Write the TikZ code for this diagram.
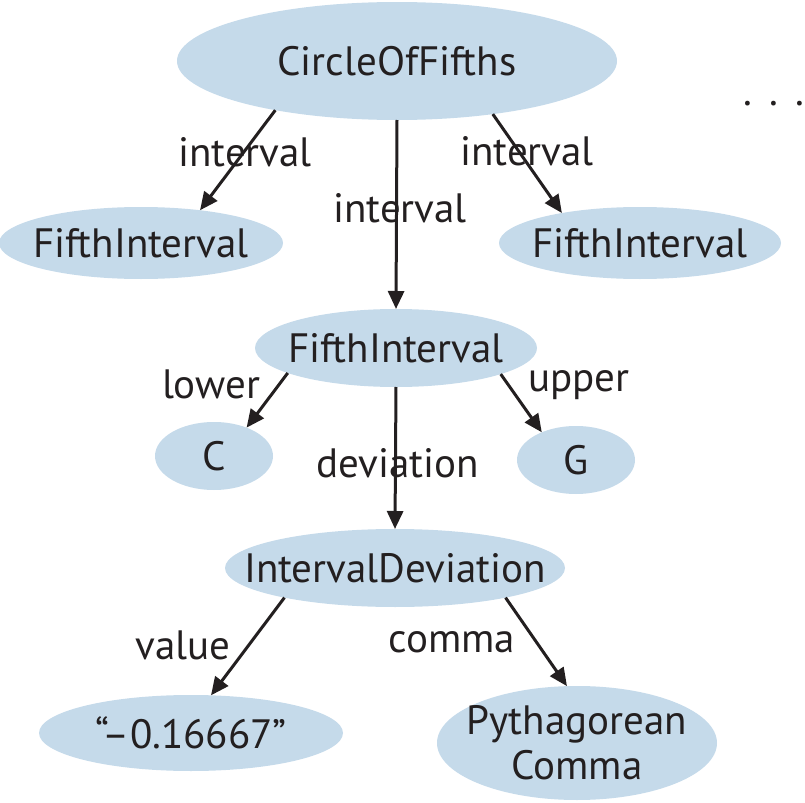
\documentclass[tikz,border=0pt]{standalone}
\usepackage{fontspec}
\setmainfont{PT Sans}
\usepackage{xcolor}
\usetikzlibrary{arrows.meta, positioning, shapes.geometric}
\definecolor{nodeblue}{RGB}{197,218,234}
\definecolor{inkdark}{RGB}{35,31,32}

\begin{document}
\begin{tikzpicture}[
    x=0.5pt, y=-0.5pt,
    every node/.style={font=\fontsize{20.5}{22.5}\selectfont, text=inkdark},
    res/.style={ellipse, fill=nodeblue, inner xsep=-40pt, inner ysep=-8pt, outer sep=0pt, align=center},
    lbl/.style={anchor=base},
    arrow/.style={-{Triangle[length=9pt, width=8pt]}, line width=1.5pt, draw=inkdark}
]
\useasboundingbox (0,0) rectangle (805,803);

\node[res, minimum width=220pt, minimum height=59pt] (cof) at (397,61) {CircleOfFifths};
\node[lbl] (more) at (774,105) {.\hspace{8.5pt}.\hspace{8.5pt}.};

% first level
\node[res, minimum width=142pt, minimum height=36pt] (fl) at (141,243) {FifthInterval};
\node[res, minimum width=141pt, minimum height=36pt] (fr) at (640,243) {FifthInterval};
\node[res, minimum width=141pt, minimum height=39pt] (fm) at (396,348) {FifthInterval};

\node[lbl] (int-l) at (245,166) {interval};
\node[lbl] (int-m) at (400,222) {interval};
\node[lbl] (int-r) at (527,165) {interval};

\draw[arrow] (cof.202) -- (fl.29);
\draw[arrow] (cof.south) -- (fm.north);
\draw[arrow] (cof.331) -- (fr.159);

% notes of the fifth
\node[res, minimum width=59pt, minimum height=34pt] (nc) at (214,456) {C};
\node[res, minimum width=59pt, minimum height=34pt] (ng) at (576,460) {G};
\node[res, minimum width=170pt, minimum height=39pt] (dev) at (395,568) {IntervalDeviation};

\node[lbl] (lower) at (211,398) {lower};
\node[lbl] (upper) at (579,391) {upper};
\node[lbl] (devlbl) at (398,477) {deviation};

\draw[arrow] (fm.193) -- (nc.41);
\draw[arrow] (fm.346) -- (ng.141);
\draw[arrow] (fm.south) -- (dev.north);

% deviation
\node[res, minimum width=152pt, minimum height=38pt] (val) at (191,733) {``--0.16667''};
\node[res, minimum width=140pt, minimum height=57pt] (pc) at (577,743) {Pythagorean\\Comma};

\node[lbl] (value) at (183,659) {value};
\node[lbl] (comma) at (452,652) {comma};

\draw[arrow] (dev.195) -- (val.62);
\draw[arrow] (dev.345) -- (pc.100);

\end{tikzpicture}
\end{document}
